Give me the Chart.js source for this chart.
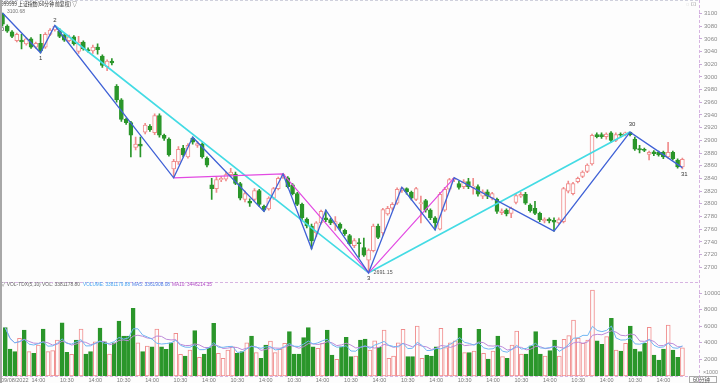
<!DOCTYPE html>
<html><head><meta charset="utf-8">
<script src="https://cdn.jsdelivr.net/npm/chart.js@4/dist/chart.umd.min.js"></script>
<style>
html,body{margin:0;padding:0;background:#fdfdfd;}
#wrap{position:relative;width:720px;height:383px;overflow:hidden;background:#fdfdfd;}
canvas{position:absolute;left:0;top:0;}
#lb{position:absolute;left:0;top:0;width:2px;height:383px;background:#a8a8a8;}
</style></head><body>
<div id="wrap"><canvas id="cp" width="720" height="383"></canvas><canvas id="cv" width="720" height="383"></canvas><div id="lb"></div></div>
<script>
// ---------- data ----------
const candleOpen = [3099,3080,3071,3057,3058,3052,3060,3047,3053,3047,3067,3074,3072,3066,3057,3063,3040,3055,3043,3041,
3047,3033,3016,3025,2985,2964,2933,2928,2889,2894,2913,2922,2912,2939,2908,2902,2855,2866,2888,2874,
2903,2892,2894,2872,2830,2824,2838,2839,2846,2847,2832,2807,2804,2807,2821,2796,2792,2809,2824,2842,
2841,2830,2816,2799,2776,2765,2754,2770,2778,2775,2768,2768,2758,2750,2734,2739,2731,2711,2726,2765,
2754,2784,2793,2801,2821,2824,2818,2807,2800,2805,2790,2778,2760,2790,2823,2838,2832,2827,2835,2826,
2827,2812,2819,2809,2807,2786,2790,2785,2802,2812,2815,2798,2793,2785,2773,2776,2774,2770,2772,2820,
2816,2835,2843,2851,2863,2909,2909,2906,2912,2900,2910,2909,2913,2902,2887,2886,2878,2882,2881,2881,
2874,2881,2869,2858];
const candleHigh = [3100.68,3082,3073,3069,3067,3062,3062,3055,3067,3070,3076,3081,3076,3068,3066,3065,3064,3057,3046,3050,
3052,3035,3027,3029,2988,2966,2935,2930,2905,2905,2927,2925,2942,2942,2910,2904,2870,2890,2892,2895,
2905,2898,2896,2874,2840,2842,2843,2850,2856,2850,2834,2820,2808,2824,2823,2798,2811,2826,2842,2848,
2843,2832,2818,2801,2778,2768,2772,2790,2790,2777,2780,2770,2760,2752,2745,2745,2746,2729,2768,2768,
2793,2796,2802,2825,2826,2825,2820,2826,2812,2807,2792,2780,2818,2826,2840,2841,2836,2838,2840,2840,
2830,2822,2822,2818,2809,2792,2792,2795,2815,2818,2818,2800,2804,2787,2778,2778,2778,2778,2826,2836,
2834,2842,2852,2863,2910,2912,2912,2912,2914,2912,2912,2913,2913,2905,2892,2888,2883,2884,2883,2883,
2897,2883,2871,2872];
const candleLow = [3080,3070,3062,3055,3044,3050,3045,3045,3038,3045,3065,3072,3062,3056,3055,3050,3037,3042,3039,3037,
3036,3015,3010,3019,2960,2930,2925,2874,2885,2874,2910,2914,2909,2905,2900,2875,2841,2862,2874,2872,
2894,2889,2872,2858,2807,2818,2835,2836,2843,2830,2806,2803,2796,2805,2796,2788,2790,2807,2822,2840,
2825,2814,2797,2775,2762,2729,2748,2768,2772,2767,2758,2758,2750,2735,2731,2716,2717,2691.15,2724,2745,
2750,2782,2790,2799,2818,2815,2806,2805,2770,2787,2775,2759,2759,2788,2820,2835,2823,2824,2824,2815,
2812,2808,2808,2806,2785,2783,2781,2778,2800,2810,2799,2787,2783,2772,2770,2770,2757,2768,2770,2817,
2814,2833,2841,2849,2861,2904,2903,2902,2897,2898,2905,2907,2907,2884,2880,2882,2869,2876,2875,2871,
2872,2869,2856,2855];
const candleClose = [3083,3072,3064,3067,3055,3060,3047,3053,3041,3067,3074,3080,3064,3058,3063,3052,3055,3044,3041,3047,
3043,3018,3025,3022,2964,2933,2928,2908,2894,2891,2924,2917,2939,2908,2903,2877,2867,2886,2877,2892,
2897,2895,2874,2861,2824,2838,2840,2846,2850,2832,2809,2816,2801,2821,2799,2790,2809,2824,2840,2847,
2827,2816,2799,2778,2765,2742,2770,2788,2775,2770,2772,2761,2753,2737,2742,2737,2719,2727,2765,2747,
2791,2793,2799,2823,2825,2819,2809,2824,2802,2790,2778,2770,2815,2823,2838,2840,2826,2835,2827,2828,
2815,2819,2812,2816,2788,2789,2784,2793,2813,2815,2801,2789,2785,2775,2776,2773,2771,2775,2824,2832,
2832,2840,2850,2861,2908,2906,2906,2910,2900,2909,2908,2912,2909,2886,2885,2884,2881,2879,2877,2874,
2881,2871,2858,2870];
const volumes = [5820,3250,2930,4540,5540,2930,2730,3735,5660,2930,3050,4340,6420,2850,2610,4340,5660,2650,2930,4130,
5780,4130,2650,4010,6630,4820,4820,8160,4000,2930,3615,3530,5660,3530,3210,4010,5140,2610,2410,3130,
5460,2250,2650,3410,6350,2730,2130,3130,3500,2730,2930,4010,4820,2810,2130,3735,4220,2810,3210,3940,
5340,2650,2650,4620,5820,3530,3340,3940,5540,2530,2010,3530,4660,2330,2410,4340,4460,3130,4250,3455,
5540,2130,2410,4010,5630,2330,2330,6030,2130,2530,2410,3530,5750,3410,4010,4250,5750,2810,2810,3000,
5630,2730,2050,3010,4820,2330,2130,3735,5420,2650,2650,3650,5340,2650,2410,3050,4340,2410,4420,4860,
6750,4540,3940,4340,10360,4250,3815,4740,6950,3130,3010,3940,6030,3250,2930,3940,5870,2530,1930,3250,
6150,3130,2250,3381];
const priceTicks = [2700,2720,2740,2760,2780,2800,2820,2840,2860,2880,2900,2920,2940,2960,2980,3000,3020,3040,3060,3080,3100];
const volTicks = [2000,4000,6000,8000,10000];
const timeTickIdx = [2,7,13,19,25,31,37,43,49,55,61,67,73,79,85,91,97,103,109,115,121,127,133,139];
const timeTickLabels = ['09/08/2022','14:00','10:30','14:00','10:30','14:00','10:30','14:00','10:30','14:00','10:30','14:00',
'10:30','14:00','10:30','14:00','10:30','14:00','10:30','14:00','10:30','14:00','10:30','14:00'];
const zigzagIdx = [0,8,11,36,40,55,59,65,68,77,84,91,95,116,132,143];
const zigzagVal = [3100.68,3038,3081,2841,2905,2788,2847,2729,2790,2691.15,2826,2759,2841,2757,2913,2857];
const cyanIdx = [11,77,132];
const cyanVal = [3081,2691.15,2913];
const magentaIdx = [36,59,77,95];
const magentaVal = [2841,2847,2691.15,2841];
const waveLabelIdx = [0,8,11,77,132,143];
const waveLabelText = ['0','1','2','3','30','31'];

// ---------- helpers ----------
const UP = '#f08c8c', DN = '#2a962a', BG = '#fdfdfd';
const N = candleOpen.length;
const idx = [...Array(N).keys()];
const isUp = idx.map(i => candleClose[i] >= candleOpen[i]);
const XMIN = -0.53, XMAX = 146.5;
function ma(arr, n){ return arr.map((v,i)=>{const s=Math.max(0,i-n+1);let t=0;for(let k=s;k<=i;k++)t+=arr[k];return t/(i-s+1);}); }
const ma5 = ma(volumes,5), ma10 = ma(volumes,10);
Chart.defaults.font.family = '"Liberation Sans", Arial, sans-serif';
Chart.defaults.animation = false;

const fitW = s => { s.width = 21; };

// ---------- price chart ----------
const pricePlugin = {
  id: 'pp',
  afterDraw(chart){
    const {ctx, scales:{x, y}} = chart;
    ctx.save();
    ctx.lineWidth = 1;
    ctx.setLineDash([3,2]);
    ctx.strokeStyle = '#cfd0dc';
    ctx.beginPath(); ctx.moveTo(0,0.5); ctx.lineTo(699,0.5); ctx.stroke();
    ctx.strokeStyle = '#d7b4e2';
    ctx.beginPath(); ctx.moveTo(0,282.5); ctx.lineTo(699,282.5); ctx.stroke();
    ctx.beginPath(); ctx.moveTo(699.5,0); ctx.lineTo(699.5,383); ctx.stroke();
    ctx.setLineDash([]);
    // title
    ctx.textBaseline = 'middle';
    ctx.fillStyle = '#333';
    ctx.font = '6px "Noto Sans CJK SC", sans-serif';
    ctx.fillText('999999 上证指数(60分钟 前复权) ▽', 1, 4, 76);
    ctx.fillStyle = '#777';
    ctx.font = '5.5px "Liberation Sans", sans-serif';
    ctx.fillText('3100.68', 7, 11, 18);
    ctx.fillStyle = '#999';
    ctx.fillText('◌ ⊡', 686, 4);
    // wave labels
    const off = {'0':[0,16],'1':[0,6],'2':[0,-5],'3':[0,5],'30':[2,-8],'31':[2,7]};
    ctx.fillStyle = '#333';
    ctx.font = '6px "Liberation Sans", sans-serif';
    ctx.textAlign = 'center';
    waveLabelIdx.forEach((i,k)=>{
      const zi = zigzagIdx.indexOf(i);
      const px = x.getPixelForValue(i), py = y.getPixelForValue(zigzagVal[zi]);
      const o = off[waveLabelText[k]];
      ctx.fillText(waveLabelText[k], px+o[0], py+o[1]);
    });
    ctx.textAlign = 'left';
    ctx.fillStyle = '#555';
    ctx.font = '5.5px "Liberation Sans", sans-serif';
    ctx.fillText('2691.15', x.getPixelForValue(77)+5, y.getPixelForValue(2691.15), 19);
    ctx.restore();
  }
};
new Chart(document.getElementById('cp'), {
  type: 'bar',
  data: { datasets: [
    { type:'line', data: zigzagIdx.map((v,k)=>({x:v,y:zigzagVal[k]})), borderColor:'#4062d6', borderWidth:1.3, pointRadius:0, order:0 },
    { type:'line', data: magentaIdx.map((v,k)=>({x:v,y:magentaVal[k]})), borderColor:'#e24ae2', borderWidth:1.2, pointRadius:0, order:1 },
    { type:'line', data: cyanIdx.map((v,k)=>({x:v,y:cyanVal[k]})), borderColor:'#44dbe4', borderWidth:1.7, pointRadius:0, order:2 },
    { data: idx.map(i=>({x:i,y:[candleLow[i],candleHigh[i]]})), backgroundColor: idx.map(i=>isUp[i]?UP:DN), barThickness:1, grouped:false, order:4 },
    { data: idx.map(i=>({x:i,y:[Math.min(candleOpen[i],candleClose[i]),Math.max(candleOpen[i],candleClose[i])]})),
      backgroundColor: idx.map(i=>isUp[i]?BG:DN), borderColor: idx.map(i=>isUp[i]?UP:DN), borderWidth:1, borderSkipped:false,
      barThickness:4, grouped:false, order:3 }
  ]},
  options: {
    responsive:false, animation:false,
    layout:{ padding:{ left:0, right:0, top:1, bottom:101 } },
    plugins:{ legend:{display:false}, tooltip:{enabled:false} },
    scales:{
      x:{ type:'linear', min:XMIN, max:XMAX, offset:false, display:false },
      y:{ position:'right', min:2676.74, max:3112.4,
          afterFit: fitW,
          afterBuildTicks: s => { s.ticks = priceTicks.map(v=>({value:v})); },
          grid:{ drawOnChartArea:false, tickLength:3, color:'#c9a9d9' },
          border:{ display:false },
          ticks:{ padding:2, color:'#8a8a8a', font:{size:6}, callback: v => String(v) } }
    }
  },
  plugins:[pricePlugin]
});

// ---------- volume chart ----------
const volPlugin = {
  id:'vp',
  afterDraw(chart){
    const {ctx} = chart;
    ctx.save();
    ctx.setLineDash([3,2]); ctx.lineWidth = 1; ctx.strokeStyle = '#d7b4e2';
    ctx.beginPath(); ctx.moveTo(0,376.5); ctx.lineTo(699,376.5); ctx.stroke();
    ctx.setLineDash([]);
    ctx.textBaseline = 'middle';
    ctx.font = '5.5px "Liberation Sans", sans-serif';
    ctx.fillStyle = '#666'; ctx.fillText('▽ VOL-TDX(5,10) VOL: 3381178.80', 1, 284.5, 79);
    ctx.fillStyle = '#48a6f2'; ctx.fillText('VOLUME: 3381179.88', 83, 284.5, 47);
    ctx.fillStyle = '#4a7de6'; ctx.fillText('MA5: 3361908.08', 132, 284.5, 38);
    ctx.fillStyle = '#b04ac4'; ctx.fillText('MA10: 3446214.35', 172, 284.5, 40);
    ctx.fillStyle = '#888'; ctx.fillText('×1000', 703, 372, 15);
    ctx.strokeStyle = '#aaa'; ctx.strokeRect(689.5,376.5,27,6);
    ctx.fillStyle = '#555'; ctx.font = '5.5px "Noto Sans CJK SC", sans-serif';
    ctx.fillText('60分钟', 693, 380, 21);
    ctx.restore();
  }
};
new Chart(document.getElementById('cv'), {
  type:'bar',
  data:{ datasets:[
    { type:'line', data: idx.map(i=>({x:i,y:ma5[i]})), borderColor:'#70b6f2', borderWidth:1, pointRadius:0, order:0 },
    { type:'line', data: idx.map(i=>({x:i,y:ma10[i]})), borderColor:'#bd8ad8', borderWidth:1, pointRadius:0, order:1 },
    { data: idx.map(i=>({x:i,y:volumes[i]})), backgroundColor: idx.map(i=>isUp[i]?BG:DN), borderColor: idx.map(i=>isUp[i]?UP:DN),
      borderWidth:1, borderSkipped:false, barThickness:4, grouped:false, order:2 }
  ]},
  options:{
    responsive:false, animation:false,
    layout:{ padding:{ left:0, right:0, top:286, bottom:0 } },
    plugins:{ legend:{display:false}, tooltip:{enabled:false} },
    scales:{
      x:{ type:'linear', min:XMIN, max:XMAX, offset:false,
          afterFit: s => { s.height = 7; },
          afterBuildTicks: s => { s.ticks = timeTickIdx.map(v=>({value:v})); },
          grid:{ drawOnChartArea:false, drawTicks:false },
          border:{ display:false },
          ticks:{ autoSkip:false, maxRotation:0, padding:1, color:'#777', font:{size:5.5},
                  callback:(v,i)=>timeTickLabels[i] } },
      y:{ position:'right', min:0, max:10845,
          afterFit: fitW,
          afterBuildTicks: s => { s.ticks = volTicks.map(v=>({value:v})); },
          grid:{ drawOnChartArea:false, tickLength:3, color:'#c9a9d9' },
          border:{ display:false },
          ticks:{ padding:2, color:'#8a8a8a', font:{size:6}, callback: v => String(v) } }
    }
  },
  plugins:[volPlugin]
});
</script>
</body></html>
